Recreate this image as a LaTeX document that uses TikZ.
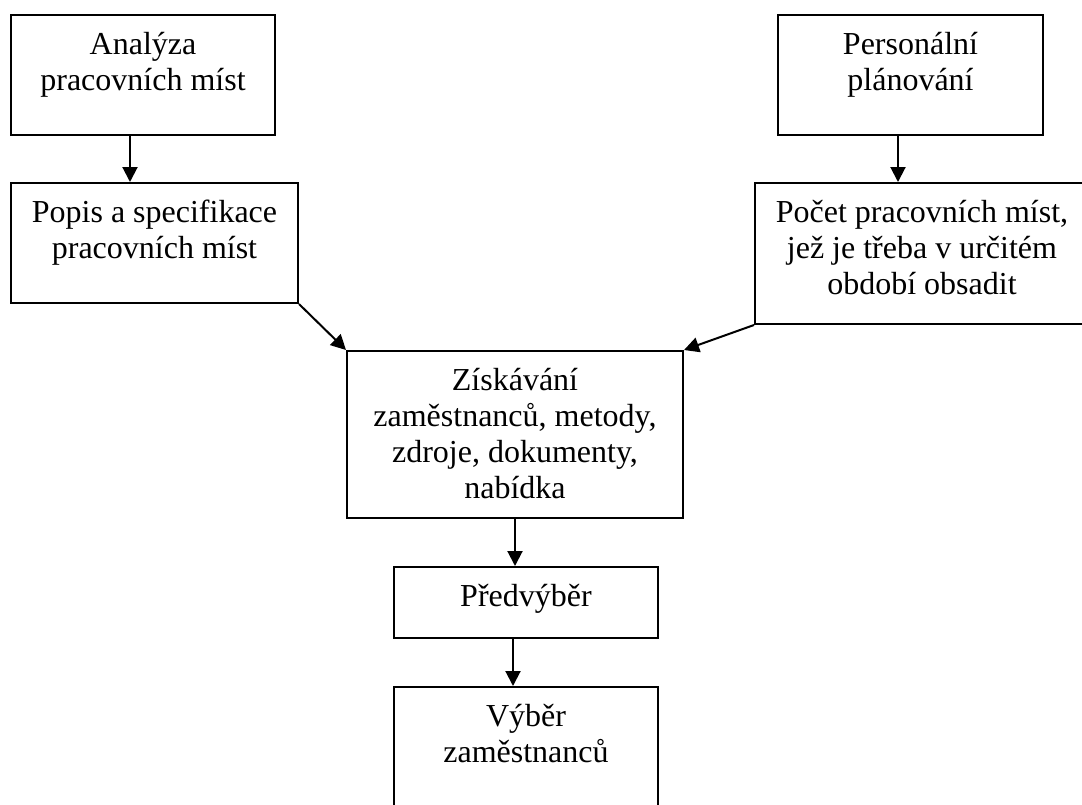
\documentclass[tikz,border=0pt]{standalone}
\usepackage{fontspec}
\setmainfont{Liberation Serif}
\usetikzlibrary{calc,arrows.meta}
\newcommand\firstline{\rule{0pt}{26pt}}
\tikzset{
  box/.style={draw=black, line width=2pt, rectangle, inner sep=0pt},
  lbl/.style={anchor=north, align=center, inner sep=0pt, font=\fontsize{32}{36}\selectfont},
  conn/.style={line width=2pt, -{Triangle[length=15pt,width=15pt]}}
}
\begin{document}
\begin{tikzpicture}[x=1pt,y=-1pt]
\useasboundingbox (0,0) rectangle (1082,804);
\clip (0,0) rectangle (1082,804);
\node[box, minimum width=264pt, minimum height=120pt] (b1) at (143,75) {};
\node[box, minimum width=287pt, minimum height=120pt] (b2) at (154.5,243) {};
\node[box, minimum width=265pt, minimum height=120pt] (b3) at (910.5,75) {};
\node[box, minimum width=334pt, minimum height=141pt] (b4) at (922,253.5) {};
\node[box, minimum width=336pt, minimum height=167pt] (b5) at (515,434.5) {};
\node[box, minimum width=264pt, minimum height=71pt] (b6) at (526,602.5) {};
\node[box, minimum width=264pt, minimum height=143pt] (b7) at (526,758.5) {};

\node[lbl] (t1) at ($(b1.north)+(0,14)$) {\firstline Analýza\\pracovních míst};
\node[lbl] (t2) at ($(b2.north)+(0,14)$) {\firstline Popis a specifikace\\pracovních míst};
\node[lbl] (t3) at ($(b3.north)+(0,14)$) {\firstline Personální\\plánování};
\node[lbl] (t4) at ($(b4.north)+(0,14)$) {\firstline Počet pracovních míst,\\jež je třeba v určitém\\období obsadit};
\node[lbl] (t5) at ($(b5.north)+(0,14)$) {\firstline Získávání\\zaměstnanců, metody,\\zdroje, dokumenty,\\nabídka};
\node[lbl] (t6) at ($(b6.north)+(0,14)$) {\firstline Předvýběr};
\node[lbl] (t7) at ($(b7.north)+(0,14)$) {\firstline Výběr\\zaměstnanců};

\coordinate (a1) at ($(b1.south west)+(120,0)$);
\draw[conn] (a1) -- (a1 |- b2.north);
\coordinate (a3) at ($(b3.south west)+(121,0)$);
\draw[conn] (a3) -- (a3 |- b4.north);
\draw[conn] (b2.south east) -- (b5.north west);
\draw[conn] (b4.south west) -- (b5.north east);
\draw[conn] (b5.south) -- (b5.south |- b6.north);
\coordinate (a6) at ($(b6.south west)+(120,0)$);
\draw[conn] (a6) -- (a6 |- b7.north);
\end{tikzpicture}
\end{document}
